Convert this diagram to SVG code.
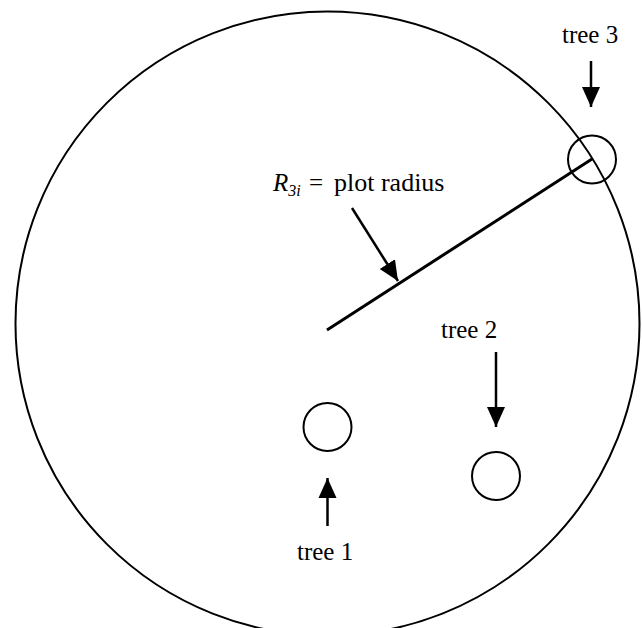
<svg xmlns="http://www.w3.org/2000/svg" width="642" height="628" viewBox="0 0 642 628">
<style>
.c{fill:none;stroke:#000;stroke-width:2}
.a{stroke:#000;stroke-width:2.5;fill:none}
.t{font-family:'Liberation Serif','DejaVu Serif',serif;font-size:25px;fill:#000}
</style>
<defs>
<marker id="ah" markerUnits="userSpaceOnUse" markerWidth="20" markerHeight="20" viewBox="0 0 20 18" refX="20" refY="9" orient="auto">
<path d="M0,0 L20,9 L0,18 Z" fill="#000"/>
</marker>
</defs>
<rect width="642" height="628" fill="#fff"/>
<g id="plot"><circle class="c" cx="327.5" cy="323.5" r="312"/></g>
<g id="tree1"><circle class="c" cx="327.5" cy="427" r="24"/><text class="t" x="297" y="560">tree 1</text></g>
<g id="tree2"><circle class="c" cx="496" cy="476" r="24"/><text class="t" x="441" y="338">tree 2</text></g>
<g id="tree3"><circle class="c" cx="592" cy="159.5" r="24"/><text class="t" x="562" y="43">tree 3</text></g>
<g id="radius-label"><text class="t" x="273" y="191"><tspan font-style="italic">R</tspan><tspan font-style="italic" font-size="16" dy="5">3i</tspan><tspan x="309" dy="-5">=</tspan><tspan x="334" font-size="26">plot radius</tspan></text></g>
<g id="connectors">
<line x1="327" y1="330" x2="592" y2="159" stroke="#000" stroke-width="3"/>
<line class="a" x1="591" y1="61" x2="591" y2="107" marker-end="url(#ah)"/>
<line class="a" x1="496" y1="352" x2="496" y2="427" marker-end="url(#ah)"/>
<line class="a" x1="327.5" y1="526" x2="327.5" y2="478" marker-end="url(#ah)"/>
<line class="a" x1="352" y1="208" x2="398" y2="281" marker-end="url(#ah)"/>
</g>
</svg>
